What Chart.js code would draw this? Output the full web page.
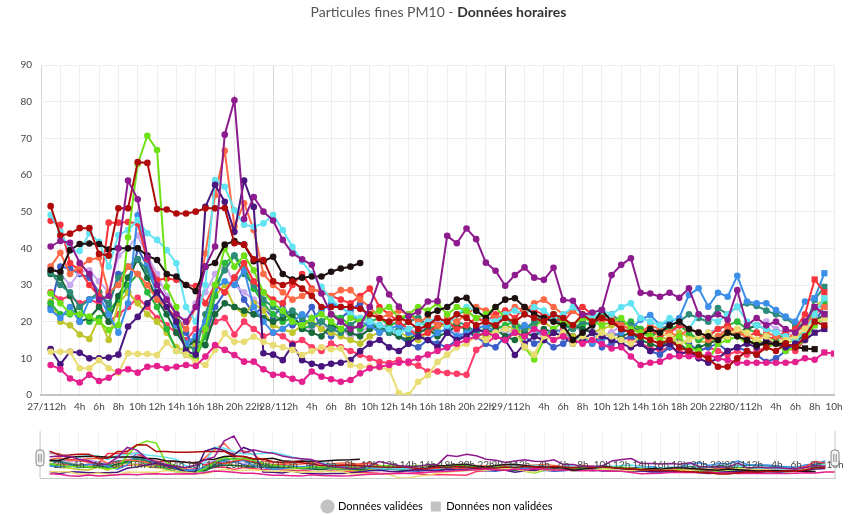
<!DOCTYPE html>
<html>
<head>
<meta charset="utf-8">
<script src="https://cdn.jsdelivr.net/npm/chart.js@4.4.0/dist/chart.umd.min.js"></script>
<style>
html, body { margin: 0; padding: 0; background: #fff; }
#wrap { position: relative; width: 851px; height: 515px; overflow: hidden; }
#title { position: absolute; top: 3px; left: 13px; width: 851px; text-align: center;
  font: 14px Lato, "Open Sans", sans-serif; color: #555; }
#title b { color: #333; font-weight: 700; }
#main { position: absolute; left: 0; top: 0; width: 851px; height: 425px; }
#nav { position: absolute; left: 0; top: 425px; width: 851px; height: 97px; }
</style>
</head>
<body>
<div id="wrap">
  <div id="main"><canvas id="chart"></canvas></div>
  <div id="nav"><canvas id="navigator"></canvas></div>
  <div id="title">Particules fines PM10 - <b>Données horaires</b></div>
</div>
<script>
// x axis: hours since 27/11 0h, one label every 2 hours
const tickLabels = [
  '27/11', '2h', '4h', '6h', '8h', '10h', '12h', '14h', '16h', '18h', '20h', '22h',
  '28/11', '2h', '4h', '6h', '8h', '10h', '12h', '14h', '16h', '18h', '20h', '22h',
  '29/11', '2h', '4h', '6h', '8h', '10h', '12h', '14h', '16h', '18h', '20h', '22h',
  '30/11', '2h', '4h', '6h', '8h', '10h'
];

// hourly PM10 values (µg/m3), from 27/11 1h onwards
const purple = [
  40.5, 42, 41.5, 36, 33, 26, 27, 40, 58.5, 53.4, 37.5, 30,
  26, 22, 20, 24, 35, 40.5, 71, 80.4, 48, 54, 50, 47.6,
  42.3, 38.6, 37, 35.5, 27.7, 22, 20, 18, 19, 24, 31.6, 27.4,
  24.1, 21.5, 22.7, 25.5, 25.6, 43.4, 41.4, 45.4, 42.5, 36.1, 33.9, 29.8,
  32.7, 34.8, 32, 31.4, 34.7, 25.9, 25.7, 21.8, 22.5, 23.2, 32.7, 35.5,
  37.3, 27.9, 27.7, 26.8, 27.9, 26.5, 29.1, 22, 21, 22, 20.5, 28.6,
  19, 21, 19, 20, 18, 17, 20, 24, 22
];
const darkRed = [
  51.5, 43.5, 44, 45.5, 45.5, 38.5, 38, 50.9, 50.9, 63.5, 63.3, 50.7,
  50.6, 49.5, 49.5, 50, 50.9, 50.9, 51, 41.4, 41, 37, 36.8, 31,
  30, 31, 29, 27, 24, 24, 24, 24, 23.5, 22, 21, 20,
  21, 20, 18, 19, 21, 20, 22, 21, 19, 20, 19, 21,
  20, 22, 21, 20, 22, 21, 19, 22, 20, 21, 20, 18,
  17, 16, 15, 14, 15, 13, 12, 11, 10, 7.7, 7.7, 10,
  12, 11, 13, 12, 14, 13, 16, 20, 19
];
const black = [
  34.1, 33.6, 39.5, 41.2, 41.3, 41.2, 39.7, 40, 40, 40, 38, 36.8,
  33, 32.3, 30, 28.3, 35, 36, 41, 42, 41, 36.5, 36.5, 37.7,
  33, 31.5, 32, 32.3, 32.3, 33.6, 34.5, 35, 36, null, null, null,
  null, null, null, 22, 23, 24, 26, 26.5, 23, 21, 24, 26,
  26.4, 24, 22, 21, 20, 19, 15, 17, 19, 23.2, 20, 18,
  17, 16, 18, 17, 19, 20, 18, 17, 16, 15, 17, 16,
  15, 13.6, 14, 14, 14, 13, 12.7, 12.5, null
];
const magenta = [
  8.2, 7, 4.5, 3.4, 5.5, 3.8, 4.7, 6.4, 7, 6.1, 7.7, 7.9,
  7.3, 7.7, 8.2, 7.9, 10.5, 13.6, 12.3, 10.9, 9.1, 9.1, 7, 5.5,
  5.5, 4.4, 3.6, 6.4, 5, 4.3, 3.6, 4.1, 5.9, 7.3, 7.7, 8.2,
  8.8, 9.1, 10, 11, 12, 13, 14, 15, 16, 17, 16, 15,
  17, 16, 18, 17, 15, 16, 15, 14, 15, 13.9, 12.7, 13,
  10.5, 8.2, 8.8, 9.1, 10.5, 10.6, 10.6, 10.5, 11, 10, 9.5, 8.8,
  8.8, 8.8, 8.8, 8.8, 8.8, 9, 10, 9.6, 11.6, 11.3
];
const khaki = [
  11.8, 11.8, 11.8, 7.3, 7.3, 9.5, 7.3, 6.1, 11.4, 11.2, 11.2, 10.9,
  14.3, 12, 11, 9, 8.2, 12.3, 16.8, 14.5, 14.5, 15.9, 14.5, 13.6,
  13, 12.3, 10.9, 12, 13, 12.5, 12.7, 8.2, 7.8, 7.7, 7.5, 7,
  0.5, 0, 3.6, 5.4, 9, 11, 13, 14, 16, 15, 17, 18,
  17, 13.2, 11, 16, 15, 17, 14, 16, 15, 17, 16, 15,
  14, 16, 15, 17, 16, 14, 15, 16, 17, 15, 16, 18,
  17, 15, 16, 14, 15, 16, 18, 20, 21
];
const indigo = [
  12.5, 8.4, 11.8, 11.5, 10, 10, 10.2, 11, 18.7, 21.3, 25, 28,
  24, 20, 12, 11, 51.3, 57.3, 52.7, 44.5, 58.5, 51.3, 11.4, 11,
  9.5, 13.6, 9.5, 8.5, 7.8, 8.5, 8.8, 9.5, 12, 14, 15, 13,
  12, 14, 16, 15, 13, 17, 15, 16, 18, 17, 16, 15,
  10.9, 14, 16, 15, 17, 16, 14, 15, 17, 16, 15, 14,
  13, 14, 12, 13, 14, 11, 12, 10, 8.8, 10, 12, 13,
  14, 13, 15, 14, 13, 14, 15, 17, 18
];
const lime = [
  27.7, 25, 22.3, 22, 21.4, 20, 17.7, 19.1, 43, 63, 70.7, 66.8,
  29.5, 24, 11.5, 10, 18, 30, 40, 35, 38, 34, 28, 25,
  23, 20, 19, 21, 22, 20, 18, 21, 20, 22, 23, 24,
  21, 22, 24, 23, 25, 22, 24, 23, 21, 22, 24, 21,
  20, 13, 9.7, 15, 18, 20, 19, 21, 20, 19, 20, 21,
  18, 17, 16, 15, 14, 16, 13, 12, 9.5, 14, 15, 16,
  14, 15, 13, 14, 12, 13, 15, 19, 21
];
const cyan = [
  49.1, 44.5, 39.5, 39.3, 44.1, 41.8, 35, 43.6, 45, 47.7, 44.1, 42.3,
  39.5, 35.9, 24, 20, 30, 58.6, 56.8, 50.4, 46.4, 45.9, 46.8, 49.1,
  45, 40.4, 36.4, 33, 29.5, 26, 24, 22, 21, 20, 19, 18,
  17, 18, 19, 20, 21, 19, 22, 24, 23, 21, 20, 22,
  23, 22, 24, 23, 21, 22, 24, 22, 21, 23, 22, 24,
  25, 21, 20, 19, 21, 20, 18, 22, 21, 20, 22, 24.1,
  20, 19, 18, 17, 16, 15, 17, 22, 26.4
];
const tomato = [
  35, 38.8, 33, 35, 36.8, 37.5, 28, 30, 35, 33, 30, 26,
  24, 21, 18, 24, 38.6, 54.5, 66.6, 46, 52.3, 45, 33, 30,
  28, 26, 27, 28.6, 28.6, 27, 28.6, 28.6, 26, 24, 21, 22,
  23, 22, 20, 21, 19, 21, 20, 22, 24, 23, 21, 22,
  24, 23, 25, 26, 24, 22, 23, 21, 22, 20, 21, 19,
  18, 17, 19, 18, 17, 16, 18, 17, 15, 16, 18, 17,
  16, 15, 17, 16, 15, 17, 19, 22, 24
];
const red = [
  47.5, 46.4, 36, 34, 30, 27, 47, 47, 47.2, 46.8, 37, 31.4,
  31.8, 31.4, 30, 29.7, 25, 30, 28, 32, 36, 31, 28, 26,
  25, 30, 33, 29, 28, 27, 26, 25, 27, 29, 24, 22,
  20, 18, 16, 17, 19, 20, 18, 19, 21, 20, 22, 23,
  21, 24, 23, 22, 21, 20, 23, 24, 22, 21, 20, 19,
  18, 17, 18, 16, 17, 19, 18, 17, 16, 18, 19, 17,
  16, 17, 15, 16, 17, 18, 22, 31.5, 28
];
const dodger = [
  23.2, 21, 24, 20, 26, 27, 22, 17, 25, 49, 36, 27,
  24, 19, 14, 16, 20, 29, 31, 30, 34, 24, 20, 17,
  18, 20, 22, 21, 23, 25, 24, 22, 20, 19, 17, 18,
  19, 17, 16, 15, 17, 18, 16, 17, 18, 19, 17, 18,
  17, 19, 18, 16, 18, 17, 15, 16, 14, 15, 16, 17,
  18, 20.5, 21.8, 19.1, 20, 21, 27.3, 29.1, 24.1, 27.9, 26.8, 32.5,
  25.5, 25, 25, 23.2, 21.4, 20, 25.5, 26.4, 33.2
];
const teal = [
  33.5, 30, 28, 24, 26, 28, 25, 32, 35, 37, 34, 28,
  24, 20, 14, 12, 22, 30, 34, 38, 33, 30, 26, 24,
  22, 23, 21, 19, 20, 18, 17, 19, 21, 20, 18, 17,
  18, 20, 21, 19, 17, 18, 20, 19, 17, 18, 20, 21,
  19, 18, 20, 22, 21, 19, 18, 20, 19, 21, 22, 20,
  19, 17, 16, 18, 19, 20, 22, 21, 20, 23.7, 22, 24,
  25, 24.3, 23, 22, 21, 19, 18, 26, 29.5
];
const darkGreen = [
  33, 32, 27, 20, 21, 24, 20, 27, 32, 37, 32, 26,
  22, 17, 13, 15, 13.6, 22, 25, 24, 23, 22, 21, 20,
  21, 22, 18, 17, 16, 19, 18, 17, 16, 18, 19, 17,
  16, 15, 17, 18, 16, 17, 19, 18, 16, 17, 18, 16,
  15, 17, 16, 18, 17, 16, 19, 18, 17, 16, 15, 16,
  17, 15, 14, 13, 15, 14, 12, 13, 14, 15, 16, 17,
  18, 19, 18, 17, 16, 15, 16, 20, 22
];
const green = [
  25, 22, 22, 24, 20, 21, 23, 26, 30, 33, 28, 24,
  18, 12, 11, 10, 16, 27, 36, 38, 35, 29, 25, 22,
  20, 21, 18, 19, 20, 22, 21, 19, 18, 20, 21, 19,
  20, 22, 21, 18, 19, 20, 22, 23, 21, 20, 18, 19,
  20, 18, 19, 21, 22, 20, 18, 19, 20, 22, 21, 19,
  20, 18, 16, 17, 18, 19, 17, 15, 16, 18, 19, 20,
  18, 17, 16, 15, 17, 18, 20, 23, 25
];
const olive = [
  25.5, 20, 19, 16.5, 15.3, 21, 15, 25, 28, 25, 22, 20,
  17, 13, 12, 14, 20, 27, 30, 24, 22, 25, 23, 19,
  18, 17, 19, 20, 18, 17, 16, 15, 14, 16, 17, 18,
  17, 16, 15, 17, 18, 20, 19, 18, 17, 16, 18, 19,
  18, 17, 19, 20, 18, 17, 16, 15, 17, 18, 19, 20,
  19, 18, 17, 16, 15, 17, 16, 15, 14, 16, 17, 18,
  16, 15, 14, 15, 14, 15, 18, 24, 26
];
const lavender = [
  35, 33, 30, 33.5, 34, 31, 28, 38, 40, 43.5, 38, 33,
  27, 22, 20, 25, 28, 33, 36, 30, 28, 26, 24, 22,
  20, 21, 19, 18, 20, 17, 18, 16, 17, 19, 18, 20,
  19, 18, 17, 19, 20, 18, 17, 16, 18, 19, 20, 17,
  18, 19, 17, 16, 18, 20, 19, 17, 18, 16, 17, 19,
  18, 17, 16, 18, 19, 17, 16, 15, 17, 18, 16, 17,
  18, 19, 20, 18, 17, 16, 17, 20, 22
];
const royal = [
  24, 35, 34.5, 33, 32, 28, 24, 33, 28, 40, 35, 30,
  26, 22, 17, 12, 16, 24, 28, 32, 26, 22, 24, 21,
  25, 19, 20, 24, 18, 16, 21, 23, 25, 20, 18, 19,
  16, 14, 13, 15, 14, 13, 15, 17, 16, 14, 13, 16,
  17, 16, 14, 15, 13, 14, 16, 15, 17, 13, 14, 15,
  16, 14, 12, 11, 13, 15, 14, 12, 13, 14, 12, 13,
  12, 11, 9, 10, 12, 14, 17, 20, 24
];
const pinkRed = [
  28, 26, 27, 25, 26, 25, 20, 22, 24, 26.5, 24, 21,
  19, 17, 15, 18, 17.3, 20, 21, 16.5, 20, 18, 16, 17,
  16, 14, 15, 13, 12, 14, 13, 12, 11, 10, 9, 8.7,
  9.5, 8.7, 8, 6.4, 6.4, 6, 5.8, 5.5, 12.3, 14, 16, 15,
  18, 17, 16, 15, 17, 18, 16, 15, 14, 16, 17, 16,
  15, 14, 13, 12, 13, 12, 11, 12, 13, 12, 11, 12,
  11, 12, 13, 14, 13, 12, 15, 20, 22
];

const series = [purple, darkRed, black, magenta, khaki, indigo, lime, cyan, tomato,
  red, dodger, teal, darkGreen, green, olive, lavender, royal, pinkRed];
const colors = ['#8e1b8e', '#b00a0a', '#1e1010', '#e4208f', '#e9dc72', '#48157f', '#6ee016', '#62e3f2', '#fd6a45',
  '#f9333b', '#3c8fe8', '#2c8b79', '#17683a', '#29b83a', '#bfc52a', '#c8a8ee', '#3b5fc9', '#ff3b68'];

function toPoints(values) {
  return values.map((v, i) => ({ x: i + 1, y: v }));
}

// the last two hours are not validated yet: square markers
function markerStyles(values) {
  let last = values.length - 1;
  while (last > 0 && values[last] === null) last--;
  return values.map((v, i) => i >= last - 1 ? 'rect' : 'circle');
}

const font = { family: 'Lato, "Open Sans", sans-serif', size: 10 };

new Chart(document.getElementById('chart'), {
  type: 'line',
  data: {
    datasets: series.map((s, k) => ({
      data: toPoints(s),
      borderColor: colors[k],
      backgroundColor: colors[k],
      borderWidth: 2,
      pointRadius: markerStyles(s).map(p => p === 'rect' ? 4.4 : 3.3),
      pointStyle: markerStyles(s),
      pointBorderWidth: 0,
      tension: 0
    }))
  },
  options: {
    responsive: true,
    maintainAspectRatio: false,
    animation: false,
    layout: { padding: { top: 65, right: 17, left: 0, bottom: 0 } },
    plugins: { legend: { display: false }, tooltip: { enabled: false } },
    scales: {
      x: {
        type: 'linear', min: 0, max: 82,
        afterFit: s => { s.height = 30; },
        ticks: { stepSize: 2, autoSkip: false, maxRotation: 0, padding: 6, font: font, color: '#444',
          callback: v => tickLabels[v / 2] },
        grid: { drawTicks: false, color: c => (c.tick && c.tick.value % 24 === 0) ? '#d6d6d6' : '#eeeeee' },
        border: { color: '#c4c4c4', width: 2 }
      },
      y: {
        min: 0, max: 90,
        afterFit: s => { s.width = 41; },
        ticks: { stepSize: 10, padding: 9, font: font, color: '#444' },
        grid: { drawTicks: false, color: '#eeeeee' },
        border: { display: false }
      }
    }
  }
});

// small overview strip below the main chart
const navHandles = {
  id: 'navHandles',
  afterDraw(chart) {
    const { ctx, chartArea } = chart;
    const y = 33;
    ctx.save();
    [chartArea.left, chartArea.right].forEach(x => {
      ctx.strokeStyle = '#cfcfcf';
      ctx.lineWidth = 1;
      ctx.beginPath(); ctx.moveTo(x, chartArea.top); ctx.lineTo(x, chartArea.bottom); ctx.stroke();
      ctx.fillStyle = '#f2f2f2';
      ctx.strokeStyle = '#888';
      ctx.beginPath(); ctx.roundRect(x - 4, y - 8, 8, 16, 3); ctx.fill(); ctx.stroke();
      ctx.beginPath();
      ctx.moveTo(x - 1.2, y - 4); ctx.lineTo(x - 1.2, y + 4);
      ctx.moveTo(x + 1.2, y - 4); ctx.lineTo(x + 1.2, y + 4);
      ctx.stroke();
    });
    ctx.restore();
  }
};

new Chart(document.getElementById('navigator'), {
  type: 'line',
  data: {
    datasets: series.map((s, k) => ({
      data: toPoints(s),
      borderColor: colors[k],
      borderWidth: 1.5,
      pointRadius: 0,
      tension: 0
    }))
  },
  options: {
    responsive: true,
    maintainAspectRatio: false,
    animation: false,
    layout: { padding: { top: 6, right: 16, left: 40, bottom: 0 } },
    plugins: {
      tooltip: { enabled: false },
      legend: {
        position: 'bottom',
        onClick: null,
        labels: {
          usePointStyle: true, boxWidth: 10, boxHeight: 10, padding: 8,
          font: { family: 'Lato, "Open Sans", sans-serif', size: 11 }, color: '#666',
          generateLabels: () => [
            { text: 'Données validées', fillStyle: '#c2c2c2', strokeStyle: '#c2c2c2', lineWidth: 0, pointStyle: 'circle', hidden: false },
            { text: 'Données non validées', fillStyle: '#c2c2c2', strokeStyle: '#c2c2c2', lineWidth: 0, pointStyle: 'rect', hidden: false }
          ]
        }
      }
    },
    scales: {
      x: {
        type: 'linear', min: 0, max: 82,
        afterFit: s => { s.height = 15; },
        ticks: { display: false, stepSize: 2 },
        grid: { drawTicks: false, color: '#efefef' },
        border: { color: '#c8c8c8', width: 1 }
      },
      xl: {
        axis: 'x', type: 'linear', min: 0, max: 82,
        position: { y: 36 },
        ticks: { z: 1, stepSize: 2, autoSkip: false, maxRotation: 0, padding: 0, font: font, color: '#444',
          callback: v => (v === 0 ? '' : tickLabels[v / 2]) },
        grid: { display: false, drawTicks: false },
        border: { display: false }
      },
      y: { display: false, min: 0, max: 90 }
    }
  },
  plugins: [navHandles]
});
</script>
</body>
</html>
